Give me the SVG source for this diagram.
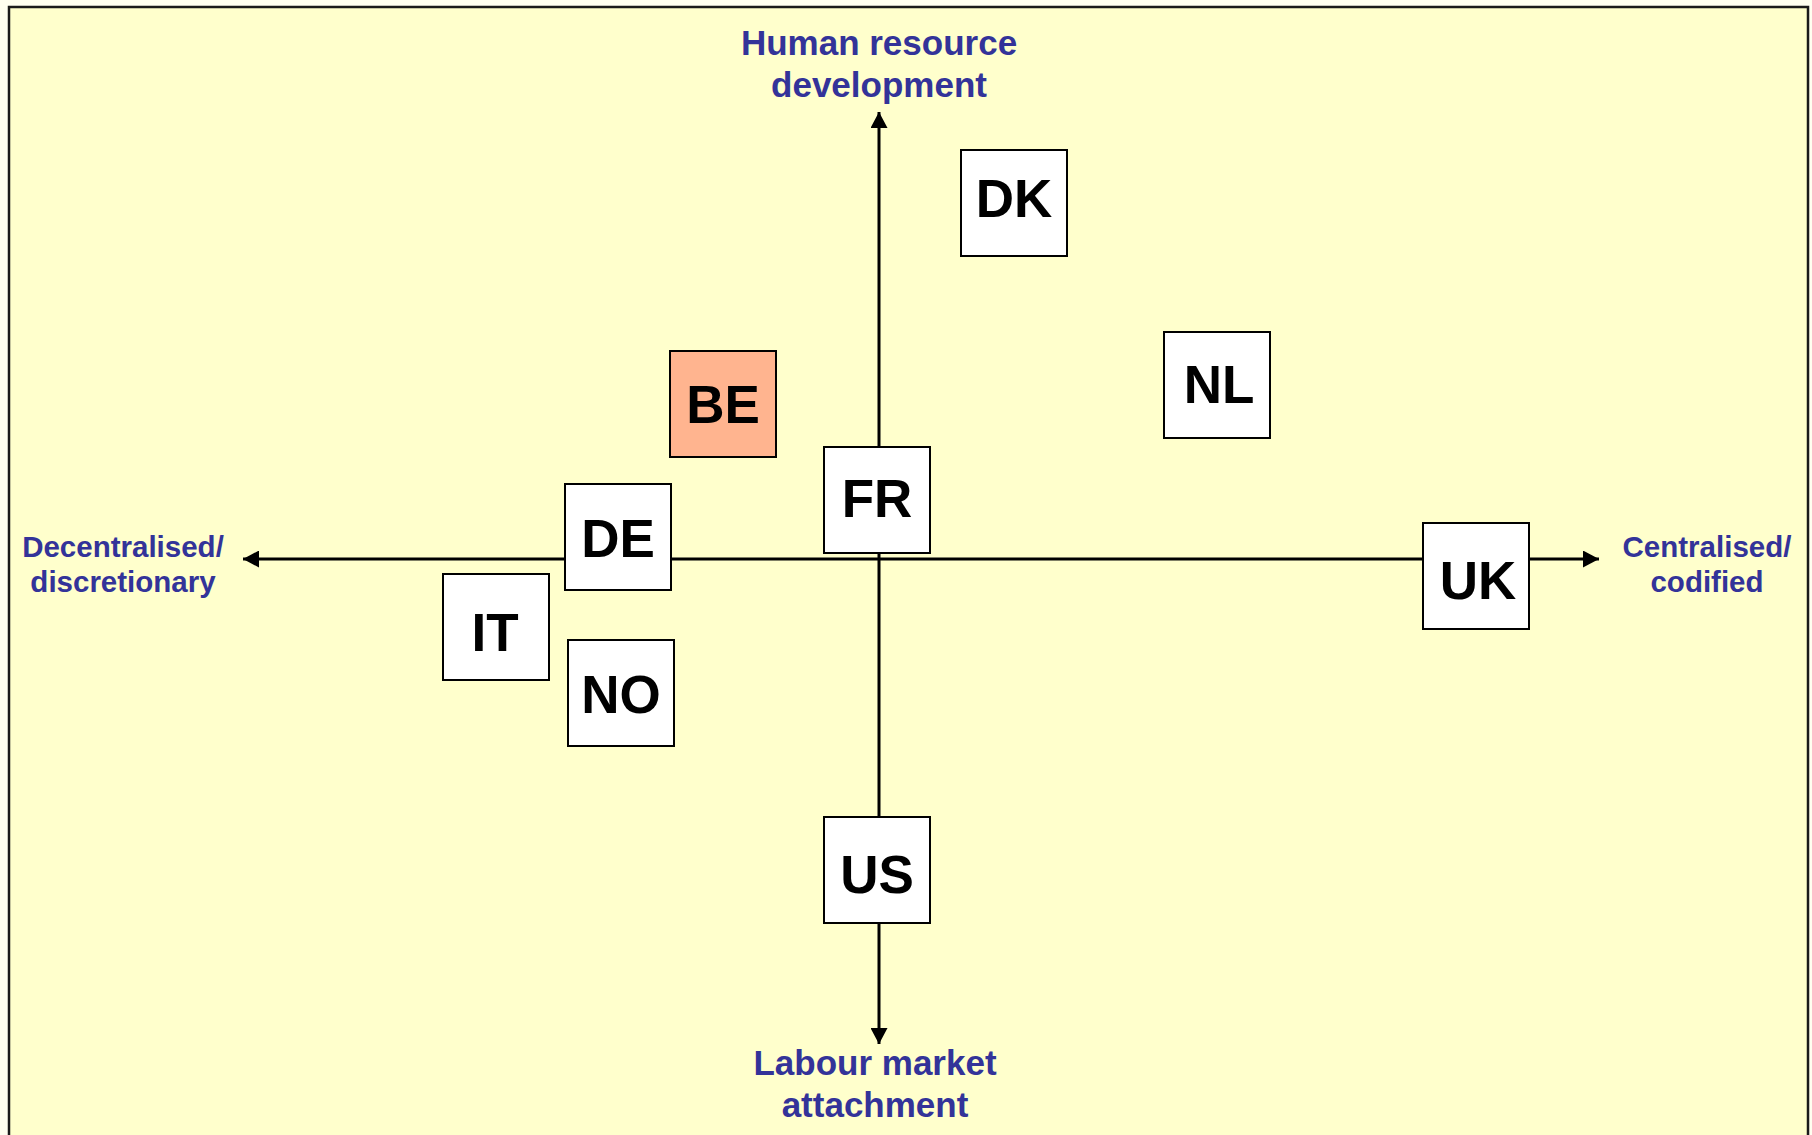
<svg xmlns="http://www.w3.org/2000/svg" width="1812" height="1135" viewBox="0 0 1812 1135">
  <style>
    .axislbl { font-family: "Liberation Sans", Arial, sans-serif; font-weight: bold; fill: #333399; text-anchor: middle; }
    .box { fill: #ffffff; stroke: #000000; stroke-width: 2; }
    .be { fill: #ffb48f; }
    .code { font-family: "Liberation Sans", Arial, sans-serif; font-weight: bold; font-size: 53px; fill: #000000; text-anchor: middle; }
    .axis { stroke: #000000; stroke-width: 3; fill: none; marker-end: url(#arrow); }
  </style>
  <defs>
    <marker id="arrow" markerUnits="userSpaceOnUse" markerWidth="17" markerHeight="17" refX="16" refY="8.5" orient="auto" viewBox="0 0 17 17">
      <path d="M0,0 L16,8.5 L0,17 z" fill="#000000"/>
    </marker>
  </defs>
  <rect x="0" y="0" width="1812" height="1135" fill="#fffff0"/>
  <rect x="9" y="7" width="1799" height="1140" fill="#ffffcc" stroke="#1a1a1a" stroke-width="2.5"/>

  <g id="axis-labels">
    <text class="axislbl" font-size="35" x="879" y="55">Human resource</text>
    <text class="axislbl" font-size="35" x="879" y="97">development</text>
    <text class="axislbl" font-size="35" x="875" y="1075">Labour market</text>
    <text class="axislbl" font-size="35" x="875" y="1117">attachment</text>
    <text class="axislbl" font-size="29.5" x="123" y="557">Decentralised/</text>
    <text class="axislbl" font-size="29.5" x="123" y="592">discretionary</text>
    <text class="axislbl" font-size="29.5" x="1707" y="557">Centralised/</text>
    <text class="axislbl" font-size="29.5" x="1707" y="592">codified</text>
  </g>

  <g id="connectors">
    <line class="axis" x1="879" y1="559" x2="879" y2="112"/>
    <line class="axis" x1="879" y1="559" x2="879" y2="1044"/>
    <line class="axis" x1="879" y1="559" x2="243" y2="559"/>
    <line class="axis" x1="879" y1="559" x2="1599" y2="559"/>
  </g>

  <g id="node-DK">
    <rect class="box" x="961" y="150" width="106" height="106"/>
    <text class="code" x="1014" y="217">DK</text>
  </g>
  <g id="node-NL">
    <rect class="box" x="1164" y="332" width="106" height="106"/>
    <text class="code" x="1219" y="403">NL</text>
  </g>
  <g id="node-BE">
    <rect class="box be" x="670" y="351" width="106" height="106"/>
    <text class="code" x="723" y="423">BE</text>
  </g>
  <g id="node-FR">
    <rect class="box" x="824" y="447" width="106" height="106"/>
    <text class="code" x="877" y="517">FR</text>
  </g>
  <g id="node-DE">
    <rect class="box" x="565" y="484" width="106" height="106"/>
    <text class="code" x="618" y="557">DE</text>
  </g>
  <g id="node-IT">
    <rect class="box" x="443" y="574" width="106" height="106"/>
    <text class="code" x="495" y="651">IT</text>
  </g>
  <g id="node-NO">
    <rect class="box" x="568" y="640" width="106" height="106"/>
    <text class="code" x="621" y="713">NO</text>
  </g>
  <g id="node-UK">
    <rect class="box" x="1423" y="523" width="106" height="106"/>
    <text class="code" x="1478" y="599">UK</text>
  </g>
  <g id="node-US">
    <rect class="box" x="824" y="817" width="106" height="106"/>
    <text class="code" x="877" y="893">US</text>
  </g>
</svg>
